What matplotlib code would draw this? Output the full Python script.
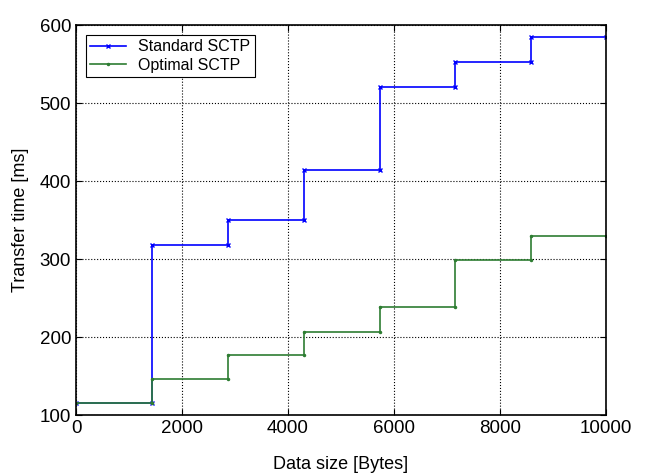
import matplotlib
matplotlib.use('Agg')
import matplotlib.pyplot as plt
import numpy as np

plt.rcParams['font.family'] = ['Liberation Sans', 'DejaVu Sans']
plt.rcParams['font.size'] = 13

# step boundaries (bytes) and transfer time per segment (ms)
edges = [0, 1432, 2864, 4296, 5728, 7160, 8592, 10000]
standard = [116, 318, 350, 414, 521, 552, 584]
optimal = [116, 146, 177, 207, 238, 299, 329]


def stairs(edges, vals):
    xs = np.repeat(edges, 2)[1:-1]
    ys = np.repeat(vals, 2)
    return xs, ys


fig = plt.figure(figsize=(6.49, 4.75), dpi=100)
ax = fig.add_axes([76/649, 60/475, 530/649, 390/475])

x, y = stairs(edges, standard)
ax.plot(x, y, 'b-x', markersize=3, linewidth=1.2, label='Standard SCTP')
x, y = stairs(edges, optimal)
ax.plot(x, y, '-', color='#2e7d32', marker='.', markersize=3, linewidth=1.2, label='Optimal SCTP')

ax.set_xlim(0, 10000)
ax.set_ylim(100, 600)
ax.set_xticks(np.arange(0, 10001, 2000))
ax.set_yticks(np.arange(100, 601, 100))
ax.tick_params(direction='in', length=4, top=True, right=True, labelsize=13.5)
ax.grid(True, linestyle=':', color='black', linewidth=0.8)
for s in ax.spines.values():
    s.set_linewidth(1.2)

ax.set_xlabel('Data size [Bytes]', labelpad=14)
ax.set_ylabel('Transfer time [ms]', labelpad=8)
leg = ax.legend(loc='upper left', fancybox=False, edgecolor='black', framealpha=1,
                borderaxespad=0.6, handlelength=2.2, fontsize=11.5,
                borderpad=0.3, labelspacing=0.2)
leg.get_frame().set_linewidth(0.8)

fig.savefig('out.png', dpi=100)
